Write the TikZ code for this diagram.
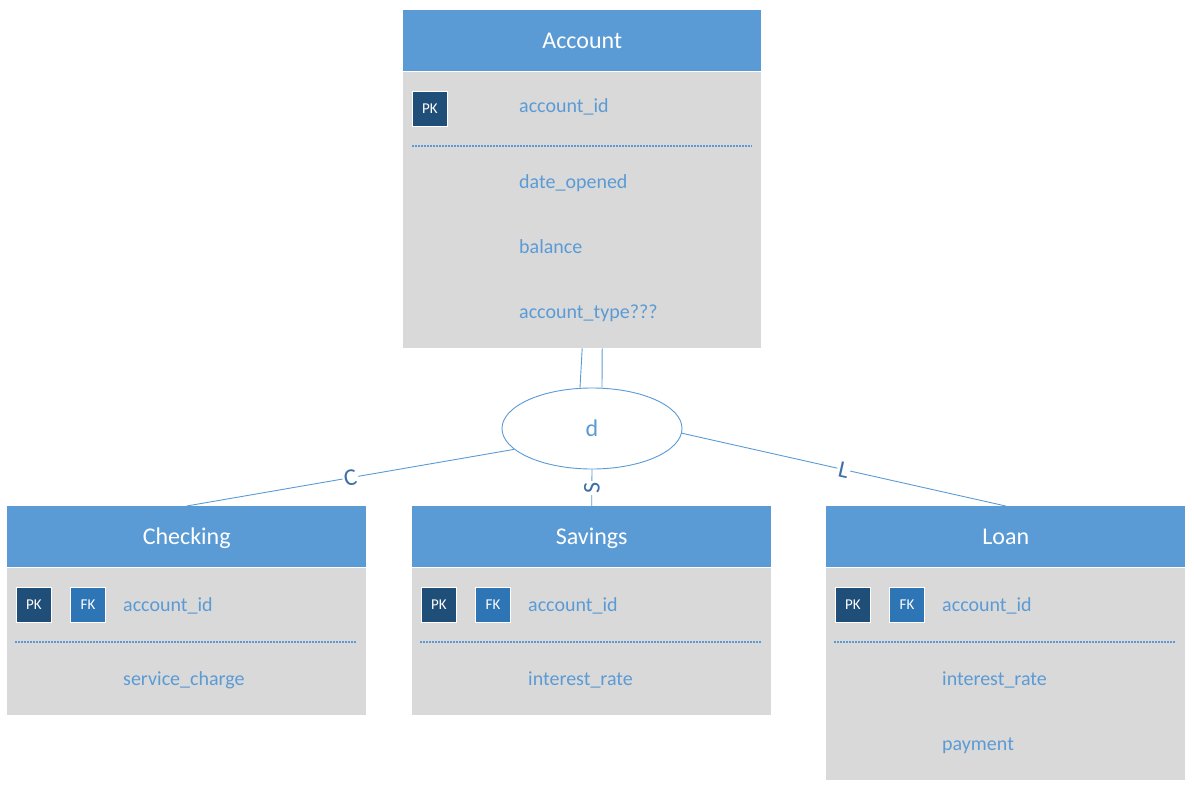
\documentclass[tikz,border=0pt]{standalone}
\usepackage{fontspec}
\setmainfont{Carlito}
\usetikzlibrary{shapes.geometric}
\definecolor{hdrblue}{HTML}{5B9BD5}
\definecolor{bodygray}{HTML}{D9D9D9}
\definecolor{pkblue}{HTML}{1F4E79}
\definecolor{fkblue}{HTML}{2E75B6}
\definecolor{lblblue}{HTML}{3C6FA6}
\begin{document}
\begin{tikzpicture}[x=1pt,y=-1pt,
  hdr/.style={anchor=north west, fill=hdrblue, text=white, inner sep=0pt,
    minimum height=61pt, text height=15pt, text depth=0pt,
    font=\fontsize{24}{28}\selectfont},
  bodybox/.style={anchor=north west, fill=bodygray, inner sep=0pt},
  keybox/.style={anchor=north west, draw=white, line width=1pt, inner sep=0pt,
    minimum size=35pt, text=white, font=\fontsize{15}{17}\selectfont},
  pk/.style={keybox, fill=pkblue},
  fk/.style={keybox, fill=fkblue},
  attr/.style={anchor=base west, inner sep=0pt, text=hdrblue,
    font=\fontsize{20}{24}\selectfont},
  sepline/.style={draw=hdrblue, line width=1.2pt, dash pattern=on 2pt off 1pt},
  link/.style={draw=hdrblue, line width=0.9pt},
  lbl/.style={fill=white, inner sep=1.5pt, text=lblblue,
    font=\fontsize{24}{28}\selectfont}
]
\useasboundingbox (0,0) rectangle (1194,789);

% supertype: Account
\node[hdr, minimum width=358pt] (acc) at (403,10) {Account};
\node[bodybox, minimum width=358pt, minimum height=276pt] (accb) at (403,72) {};
\node[pk] (accpk) at (412,91) {PK};
\node[attr] (acc1) at (519,113) {account\_id};
\draw[sepline] (412,146) -- (752,146);
\node[attr] (acc2) at (519,188) {date\_opened};
\node[attr] (acc3) at (519,253) {balance};
\node[attr] (acc4) at (519,318) {account\_type???};

% subtype: Checking
\node[hdr, minimum width=359pt] (chk) at (7,506) {Checking};
\node[bodybox, minimum width=359pt, minimum height=147pt] (chkb) at (7,568) {};
\node[pk] (chkpk) at (16,587) {PK};
\node[fk] (chkfk) at (70,587) {FK};
\node[attr] (chk1) at (123,611) {account\_id};
\draw[sepline] (15,642) -- (356,642);
\node[attr] (chk2) at (123,685) {service\_charge};

% subtype: Savings
\node[hdr, minimum width=359pt] (sav) at (412,506) {Savings};
\node[bodybox, minimum width=359pt, minimum height=147pt] (savb) at (412,568) {};
\node[pk] (savpk) at (421,587) {PK};
\node[fk] (savfk) at (475,587) {FK};
\node[attr] (sav1) at (528,611) {account\_id};
\draw[sepline] (420,642) -- (761,642);
\node[attr] (sav2) at (528,685) {interest\_rate};

% subtype: Loan
\node[hdr, minimum width=359pt] (loan) at (826,506) {Loan};
\node[bodybox, minimum width=359pt, minimum height=212pt] (loanb) at (826,568) {};
\node[pk] (loanpk) at (835,587) {PK};
\node[fk] (loanfk) at (889,587) {FK};
\node[attr] (loan1) at (942,611) {account\_id};
\draw[sepline] (834,642) -- (1175,642);
\node[attr] (loan2) at (942,685) {interest\_rate};
\node[attr] (loan3) at (942,750) {payment};

% disjoint specialization
\node[ellipse, draw=hdrblue, line width=0.9pt, fill=white, inner sep=0pt,
  minimum width=180pt, minimum height=81pt, text=hdrblue,
  font=\fontsize{24}{28}\selectfont] (dd) at (592,428.5) {d};

% total participation (double line)
\draw[link] (accb.south) -- ([xshift=-12pt]dd.north);
\draw[link] ([xshift=20pt]accb.south) -- ([xshift=10pt]dd.north);

% subtype links
\draw[link] (chk.north) -- node[lbl, sloped] {C} (dd.195);
\draw[link] (dd.south) -- node[lbl, rotate=90] {S} (sav.north);
\draw[link] (dd.-3) -- node[lbl, sloped] {L} (loan.north);
\end{tikzpicture}
\end{document}
